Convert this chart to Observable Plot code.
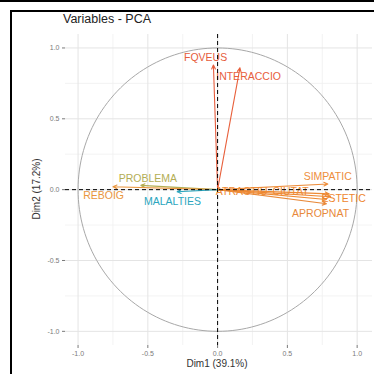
<!DOCTYPE html>
<html>
<head>
<meta charset="utf-8">
<script src="https://cdn.jsdelivr.net/npm/d3@7"></script>
<script src="https://cdn.jsdelivr.net/npm/@observablehq/plot@0.6"></script>
<style>
  body { margin: 0; background: #fff; }
  #wrap { position: relative; width: 374px; height: 374px; overflow: hidden; font-family: "Liberation Sans", Arial, sans-serif; }
  .bar { position: absolute; background: #000; }
  #title { position: absolute; left: 63px; top: 12px; font-size: 12.5px; color: #222; }
  #xlab { position: absolute; left: 0; width: 434px; top: 358px; text-align: center; font-size: 10px; color: #333; }
  #ylab { position: absolute; left: 36px; top: 189px; font-size: 10px; color: #333; transform: translate(-50%, -50%) rotate(-90deg); white-space: nowrap; }
  #chart { position: absolute; left: 0; top: 0; }
</style>
</head>
<body>
<div id="wrap">
  <div id="chart"></div>
  <div class="bar" style="left:0;top:0;width:374px;height:2px"></div>
  <div class="bar" style="left:10px;top:10px;width:364px;height:2px"></div>
  <div class="bar" style="left:10px;top:10px;width:2px;height:364px"></div>
  <div id="title">Variables - PCA</div>
  <div id="xlab">Dim1 (39.1%)</div>
  <div id="ylab">Dim2 (17.2%)</div>
</div>
<script>
const names   = ["FQVEUS", "INTERACCIO", "SIMPATIC", "ESTETIC", "APROPNAT", "ATRACTIU", "CIUTAT", "PROBLEMA", "REBOIG", "MALALTIES"];
const dim1    = [-0.03, 0.16, 0.79, 0.81, 0.78, 0.78, 0.80, -0.55, -0.75, -0.29];
const dim2    = [0.88, 0.86, 0.04, -0.05, -0.10, -0.07, -0.03, 0.03, 0.02, -0.015];
const labelX  = [-0.086, 0.222, 0.789, 0.903, 0.738, 0.172, 0.523, -0.50, -0.817, -0.323];
const labelY  = [0.933, 0.80, 0.092, -0.064, -0.17, -0.014, -0.014, 0.078, -0.042, -0.085];
const colors  = ["#E65C3C", "#E8603C", "#EE8E3C", "#EE8630", "#E8893A", "#EE8A34", "#EE8A34", "#B3AE55", "#E9963E", "#2CA6BE"];
const tickVals = [-1, -0.5, 0, 0.5, 1];
const minorVals = [-0.75, -0.25, 0.25, 0.75];

const vars = names.map((n, i) => ({name: n, x: dim1[i], y: dim2[i], lx: labelX[i], ly: labelY[i], color: colors[i]}));
const circle = d3.range(0, 361, 2).map(a => ({x: Math.cos(a * Math.PI / 180), y: Math.sin(a * Math.PI / 180)}));
const fmt = d => d.toFixed(1);

const chart = Plot.plot({
  width: 374,
  height: 374,
  marginTop: 34,
  marginBottom: 29,
  marginLeft: 65,
  marginRight: 2,
  x: {domain: [-1.09, 1.11], ticks: tickVals, tickFormat: fmt, tickSize: 3, tickPadding: 3, label: null},
  y: {domain: [-1.10, 1.095], ticks: tickVals, tickFormat: fmt, tickSize: 3, tickPadding: 3, label: null},
  style: {fontFamily: "'Liberation Sans', Arial, sans-serif", fontSize: "7px", color: "#7a7a7a", background: "transparent"},
  marks: [
    Plot.ruleX(minorVals, {stroke: "#f0f0f0", strokeWidth: 0.8}),
    Plot.ruleY(minorVals, {stroke: "#f0f0f0", strokeWidth: 0.8}),
    Plot.ruleX(tickVals, {stroke: "#e4e4e4", strokeWidth: 1}),
    Plot.ruleY(tickVals, {stroke: "#e4e4e4", strokeWidth: 1}),
    Plot.line(circle, {x: "x", y: "y", stroke: "#a8a8a8", strokeWidth: 1, curve: "linear"}),
    Plot.arrow(vars, {x1: 0, y1: 0, x2: "x", y2: "y", stroke: d => d.color, strokeWidth: 1.1, headLength: 6, headAngle: 50}),
    Plot.text(vars, {x: "lx", y: "ly", text: "name", fill: d => d.color, fontSize: 10.5, textAnchor: "middle"}),
    Plot.ruleX([0], {stroke: "#000", strokeWidth: 1, strokeDasharray: "4,3"}),
    Plot.ruleY([0], {stroke: "#000", strokeWidth: 1, strokeDasharray: "4,3"})
  ]
});
document.getElementById("chart").appendChild(chart);
</script>
</body>
</html>
